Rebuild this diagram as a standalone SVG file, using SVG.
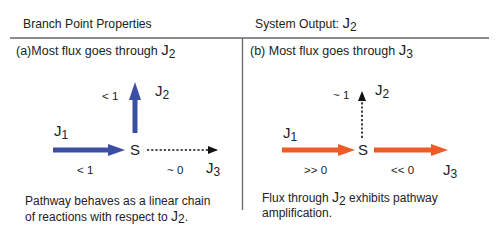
<svg xmlns="http://www.w3.org/2000/svg" width="500" height="236" viewBox="0 0 500 236">
<style>
text{font-family:"Liberation Sans",Arial,sans-serif;fill:#222}
.t{font-size:12.2px}
.h{font-size:12.5px}
.b{font-size:12px}
.s{font-size:11.5px}
.j{font-size:15px}
.jb{font-size:14px}
.sub{font-size:12px}
.blue{fill:#3a4fa3}
.or{fill:#f05a24}
.dot{stroke:#111;stroke-width:1.6;stroke-dasharray:2.2 2;fill:none}
</style>
<defs>
<marker id="ah" markerWidth="10" markerHeight="8" refX="9" refY="4" orient="auto" markerUnits="userSpaceOnUse">
<path d="M0,0 L10,4 L0,8 Z" fill="#111"/>
</marker>
</defs>
<rect width="500" height="236" fill="#fff"/>
<g id="frame" stroke="#666" stroke-width="1.3">
<line x1="10" y1="38" x2="489" y2="38"/>
<line x1="242.5" y1="38" x2="242.5" y2="210"/>
</g>
<g id="headers">
<text class="t" x="23" y="28">Branch Point Properties</text>
<text class="t" x="255" y="28">System Output: <tspan class="j">J</tspan><tspan class="sub" dy="3">2</tspan></text>
<text class="h" x="16" y="55">(a)Most flux goes through <tspan class="j">J</tspan><tspan class="sub" dy="3">2</tspan></text>
<text class="h" x="250" y="55">(b) Most flux goes through <tspan class="j">J</tspan><tspan class="sub" dy="3">3</tspan></text>
</g>
<g id="connectors">
<path class="blue" d="M53,147.5 H108 V144 L125,150 L108,156 V152.5 H53 Z"/>
<path class="blue" d="M132.5,133 V100 H129 L135,82 L141,100 H137.5 V133 Z"/>
<line class="dot" x1="147" y1="150" x2="217" y2="150" marker-end="url(#ah)"/>
<path class="or" d="M282,147.5 H338 V144 L355,150 L338,156 V152.5 H282 Z"/>
<path class="or" d="M374,147.5 H431 V144 L448,150 L431,156 V152.5 H374 Z"/>
<line class="dot" x1="362" y1="138" x2="362" y2="92" marker-end="url(#ah)"/>
</g>
<g id="panel-a">
<text class="s" x="102" y="100">&lt; 1</text>
<text class="j" x="155" y="96">J<tspan class="sub" dy="3">2</tspan></text>
<text class="j" x="54" y="136">J<tspan class="sub" dy="3">1</tspan></text>
<text x="130" y="155" font-size="15">S</text>
<text class="s" x="77" y="174">&lt; 1</text>
<text class="s" x="167" y="174">~ 0</text>
<text class="j" x="206" y="173">J<tspan class="sub" dy="3">3</tspan></text>
<text class="b" x="25" y="204.5">Pathway behaves as a linear chain</text>
<text class="b" x="25" y="220.5">of reactions with respect to <tspan class="jb">J</tspan><tspan class="sub" dy="2.5">2</tspan><tspan dy="-2.5">.</tspan></text>
</g>
<g id="panel-b">
<text class="s" x="333" y="99">~ 1</text>
<text class="j" x="375" y="95">J<tspan class="sub" dy="3">2</tspan></text>
<text class="j" x="283" y="138">J<tspan class="sub" dy="3">1</tspan></text>
<text x="358" y="155" font-size="15">S</text>
<text class="s" x="304" y="174">&gt;&gt; 0</text>
<text class="s" x="391" y="174">&lt;&lt; 0</text>
<text class="j" x="443" y="175">J<tspan class="sub" dy="3">3</tspan></text>
<text class="b" x="262" y="202">Flux through <tspan class="jb">J</tspan><tspan class="sub" dy="2.5">2</tspan><tspan dy="-2.5"> exhibits pathway</tspan></text>
<text class="b" x="262" y="217">amplification.</text>
</g>
</svg>
